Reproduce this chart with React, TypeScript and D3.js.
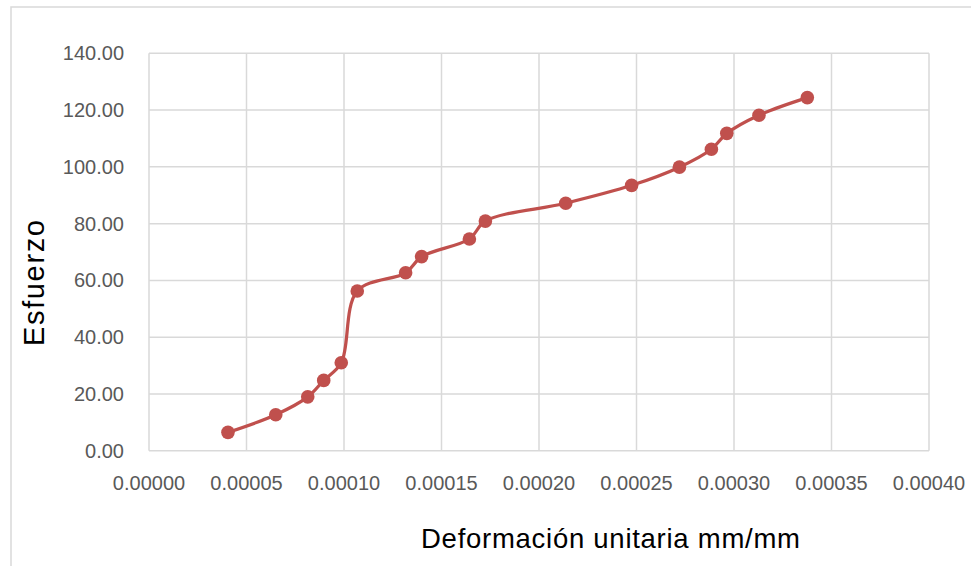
import React, { useEffect, useRef } from "react";
import * as d3 from "d3";

// strain (mm/mm) and stress readings
const strain: number[] = [
  0.0000405, 0.000065, 0.0000814, 0.0000896, 0.0000986, 0.0001068, 0.0001316,
  0.0001398, 0.0001643, 0.0001725, 0.0002137, 0.0002475, 0.000272, 0.0002884,
  0.0002963, 0.0003128, 0.0003376,
];
const stress: number[] = [
  6.5, 12.7, 19.0, 24.8, 31.0, 56.3, 62.7, 68.4, 74.6, 80.9, 87.2, 93.5, 99.9,
  106.2, 111.8, 118.2, 124.4,
];
const xTicks: number[] = [0, 0.00005, 0.0001, 0.00015, 0.0002, 0.00025, 0.0003, 0.00035, 0.0004];
const yTicks: number[] = [0, 20, 40, 60, 80, 100, 120, 140];

const App: React.FC = () => {
  const svgRef = useRef<SVGSVGElement | null>(null);

  useEffect(() => {
    if (!svgRef.current) return;
    const svg = d3.select(svgRef.current);
    svg.selectAll("*").remove();

    const width = 971;
    const height = 566;
    const plot = { left: 149, right: 929, top: 53.3, bottom: 450.8 };
    const font = "'Liberation Sans', Arial, sans-serif";

    const x = d3.scaleLinear().domain([0, 0.0004]).range([plot.left, plot.right]);
    const y = d3.scaleLinear().domain([0, 140]).range([plot.bottom, plot.top]);

    svg.attr("width", width).attr("height", height);

    svg.append("rect").attr("width", width).attr("height", height).attr("fill", "#fff");

    // outer chart frame
    svg
      .append("rect")
      .attr("x", 11)
      .attr("y", 7)
      .attr("width", 1000)
      .attr("height", 700)
      .attr("fill", "none")
      .attr("stroke", "#d9d9d9")
      .attr("stroke-width", 1.5);

    // gridlines
    svg
      .append("g")
      .selectAll("line")
      .data(yTicks)
      .join("line")
      .attr("x1", plot.left)
      .attr("x2", plot.right)
      .attr("y1", (d) => y(d))
      .attr("y2", (d) => y(d))
      .attr("stroke", "#d9d9d9")
      .attr("stroke-width", 1.5);

    svg
      .append("g")
      .selectAll("line")
      .data(xTicks)
      .join("line")
      .attr("x1", (d) => x(d))
      .attr("x2", (d) => x(d))
      .attr("y1", plot.top)
      .attr("y2", plot.bottom)
      .attr("stroke", "#d9d9d9")
      .attr("stroke-width", 1.5);

    // tick labels
    svg
      .append("g")
      .selectAll("text")
      .data(yTicks)
      .join("text")
      .attr("x", 124)
      .attr("y", (d) => y(d) + 7)
      .attr("text-anchor", "end")
      .attr("font-family", font)
      .attr("font-size", 20)
      .attr("fill", "#595959")
      .text((d) => d.toFixed(2));

    svg
      .append("g")
      .selectAll("text")
      .data(xTicks)
      .join("text")
      .attr("x", (d) => x(d))
      .attr("y", 490)
      .attr("text-anchor", "middle")
      .attr("font-family", font)
      .attr("font-size", 20)
      .attr("fill", "#595959")
      .text((d) => d.toFixed(5));

    // axis titles
    svg
      .append("text")
      .attr("x", 610.5)
      .attr("y", 548)
      .attr("text-anchor", "middle")
      .attr("font-family", font)
      .attr("font-size", 27.5)
      .attr("textLength", 379)
      .attr("lengthAdjust", "spacing")
      .attr("fill", "#000")
      .text("Deformación unitaria mm/mm");

    svg
      .append("text")
      .attr("transform", "translate(44,283) rotate(-90)")
      .attr("text-anchor", "middle")
      .attr("font-family", font)
      .attr("font-size", 29)
      .attr("textLength", 126)
      .attr("lengthAdjust", "spacing")
      .attr("fill", "#000")
      .text("Esfuerzo");

    const pts: [number, number][] = strain.map((s, i) => [s, stress[i]]);

    const line = d3
      .line<[number, number]>()
      .x((d) => x(d[0]))
      .y((d) => y(d[1]))
      .curve(d3.curveCatmullRom.alpha(0.5));

    svg
      .append("path")
      .datum(pts)
      .attr("d", line)
      .attr("fill", "none")
      .attr("stroke", "#c0504d")
      .attr("stroke-width", 3.25);

    svg
      .append("g")
      .selectAll("circle")
      .data(pts)
      .join("circle")
      .attr("cx", (d) => x(d[0]))
      .attr("cy", (d) => y(d[1]))
      .attr("r", 6.8)
      .attr("fill", "#c0504d");
  }, []);

  return (
    <div style={{ position: "absolute", left: 0, top: 0, width: 971, height: 566 }}>
      <svg ref={svgRef} style={{ display: "block" }}></svg>
    </div>
  );
};

export default App;
